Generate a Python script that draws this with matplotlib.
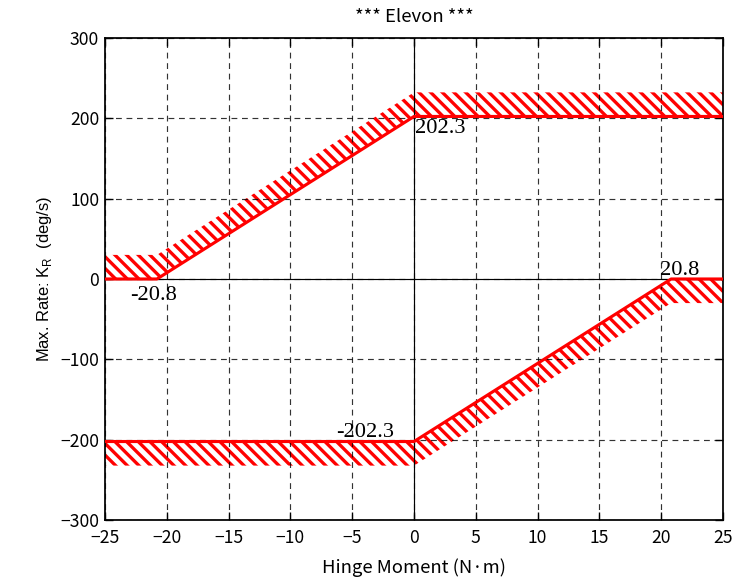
import matplotlib

matplotlib.use("Agg")
import matplotlib.pyplot as plt

# rate limit schedule vs hinge moment (N*m -> deg/s)
pos_x = [-25.0, -20.8, 0.0, 25.0]
pos_rate = [0.0, 0.0, 202.3, 202.3]
neg_x = [-25.0, 0.0, 20.8, 25.0]
neg_rate = [-202.3, -202.3, 0.0, 0.0]
band = 30.0  # hatched margin outside the limit line

labels = [
    # (x, y, text, ha, va)
    (-21.1, -9.0, "-20.8", "center", "top"),
    (0.1, 199.0, "202.3", "left", "top"),
    (-1.6, -203.0, "-202.3", "right", "bottom"),
    (21.5, -1.0, "20.8", "center", "bottom"),
]

DPI = 140
plt.rcParams["hatch.linewidth"] = 1.7
tick_font = ["Noto Sans CJK JP", "DejaVu Sans"]

fig = plt.figure(figsize=(735 / DPI, 586 / DPI), dpi=DPI)
ax = fig.add_axes([0.1429, 0.1126, 0.8408, 0.8226])

ax.fill_between(pos_x, pos_rate, [r + band for r in pos_rate],
                facecolor="none", edgecolor="red", linewidth=0,
                hatch="\\\\\\\\")
ax.fill_between(neg_x, [r - band for r in neg_rate], neg_rate,
                facecolor="none", edgecolor="red", linewidth=0,
                hatch="\\\\\\\\")
ax.plot(pos_x, pos_rate, color="red", lw=1.6, zorder=4)
ax.plot(neg_x, neg_rate, color="red", lw=1.6, zorder=4)

ax.axhline(0, color="black", lw=0.6, zorder=1)
ax.axvline(0, color="black", lw=0.6, zorder=1)

for x, y, s, ha, va in labels:
    ax.text(x, y, s, ha=ha, va=va, family="Liberation Serif", fontsize=11.5,
            zorder=5)

ax.set_xlim(-25, 25)
ax.set_ylim(-300, 300)
ax.set_xticks(range(-25, 26, 5))
ax.set_yticks(range(-300, 301, 100))
ax.grid(True, color="black", ls=(0, (5, 4)), lw=0.6, alpha=0.8)
ax.tick_params(direction="in", top=True, right=True, length=4, width=0.7,
               labelsize=9, pad=3)
ax.tick_params(axis="x", pad=4.5)
for lab in ax.get_xticklabels() + ax.get_yticklabels():
    lab.set_family(tick_font)
for sp in ax.spines.values():
    sp.set_linewidth(0.9)

ax.set_title("*** Elevon ***", family=tick_font, fontsize=9.5, pad=8)
ax.set_xlabel("Hinge Moment (N·m)", family=tick_font, fontsize=9.5,
              labelpad=6)
ax.set_ylabel(r"Max. Rate: K$_\mathregular{R}$  (deg/s)",
              family="Liberation Sans", fontsize=8.5, labelpad=3)

fig.savefig("out.png", dpi=DPI)
